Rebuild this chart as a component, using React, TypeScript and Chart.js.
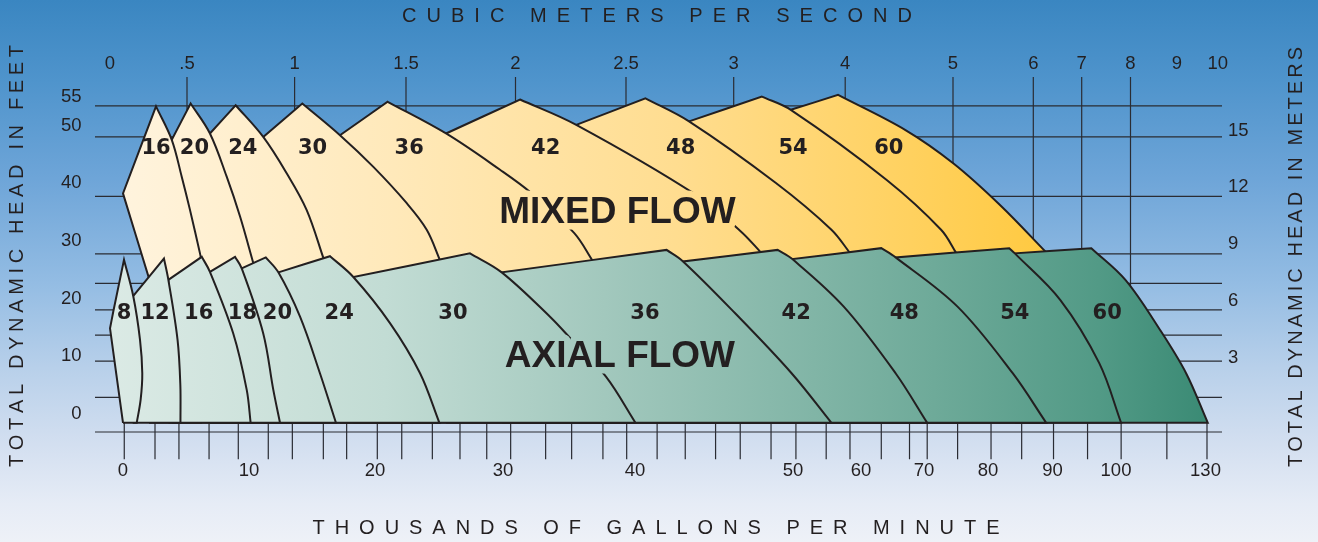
import React, { useEffect, useRef } from 'react';
import { Chart, LinearScale, registerables } from 'chart.js';

type Pt = [number, number];

// ---------- Printed axis scales (the flow axes are non-linear; AXIS_SPAN = axis length units) ----------
const AXIS_SPAN = 1127;

const gpmTicks = [0, 10, 20, 30, 40, 50, 60, 70, 80, 90, 100, 130];
const gpmTickLabels = ['0', '10', '20', '30', '40', '50', '60', '70', '80', '90', '100', '130'];
const gpmTickAt = [28, 154, 280, 408, 540, 698, 766, 829, 893, 957.5, 1021, 1110.5];
const gpmMinorTicks = [
  0.1, 2.54, 4.44, 6.83, 9.15, 11.53, 13.44, 15.9, 17.75, 20.18, 22.09, 24.48, 26.64, 28.73,
  30.58, 33.23, 35.2, 37.57, 39.37, 41.4, 43.18, 45.1, 46.66, 48.61, 50.43, 54.88, 58.38,
  63.22, 67.7, 70.5, 75.25, 80.47, 85.22, 90.16, 95.52, 101.72, 117.05, 130.5,
];

const cmsTicks = [0, 0.5, 1, 1.5, 2, 2.5, 3, 4, 5, 6, 7, 8, 9, 10];
const cmsTickLabels = ['0', '.5', '1', '1.5', '2', '2.5', '3', '4', '5', '6', '7', '8', '9', '10'];
const cmsTickAt = [15, 92, 199.6, 311, 420.5, 531, 638.7, 750.2, 858, 938.3, 986.7, 1035.5, 1081.8, 1122.7];
const cmsGridTicks = [0.5, 1, 1.5, 2, 2.5, 3, 4, 5, 6, 7, 8];

const feetTicks = [0, 10, 20, 30, 40, 50, 55];
const meterTicks = [3, 6, 9, 12, 15];
const headGridFeet = [55, 49.6, 39.3, 29.3, 24.2, 19.6, 15.2, 10.7, 4.4];
const FEET_MIN = -1.6;
const FEET_MAX = 60;
const FT_PER_M = 3.28084;

// ---------- Mixed flow pumps (x: thousands GPM, y: feet) ----------
const mixedSizes = [16, 20, 24, 30, 36, 42, 48, 54, 60];
const mixedPeaks: Pt[] = [
  [2.62, 54.9], [5.37, 55.4], [8.94, 55.1], [14.23, 55.4], [20.99, 55.7],
  [31.29, 56.1], [40.66, 56.3], [48.03, 56.6], [56.63, 56.9],
];
const mixedLeftEdges: Pt[][] = [
  [[2.06, 25.1], [0, 39.8]],
  [[3.87, 49.1]],
  [[6.9, 50.2]],
  [[11.13, 49.6]],
  [[17.22, 49.9]],
  [[25.55, 50.2]],
  [[35.55, 51.7]],
  [[43.42, 52.3]],
  [[49.86, 54.3]],
];
const mixedRightEdges: Pt[][] = [
  [[3.87, 49.1], [4.66, 42.7], [5.32, 36.9], [6.11, 29.4], [6.2, 28.4]],
  [[6.9, 50.2], [8.23, 42.7], [9.29, 35.8], [10.37, 27.5]],
  [[11.13, 49.6], [12.99, 43.3], [14.58, 36.9], [15.95, 28.3]],
  [[17.22, 49.9], [19.87, 44.4], [22.48, 38.1], [24.04, 33.5], [25.1, 28.1]],
  [[25.55, 50.2], [29.77, 43.9], [32.18, 39.8], [35.4, 32.9], [36.82, 28.0]],
  [[35.55, 51.7], [43.89, 39.5], [46.7, 33.2], [48.02, 29.4]],
  [[43.42, 52.3], [48.92, 41.6], [55.65, 33.5], [58.42, 29.4]],
  [[49.86, 54.3], [64.13, 42.1], [72.67, 33.5], [75.1, 29.35]],
  [[67.06, 50.8], [74.61, 45.0], [81.86, 37.8], [89.05, 29.55]],
];
const mixedLabelGpm = [2.62, 5.67, 9.51, 15.04, 22.67, 33.23, 42.89, 50.0, 64.41];
const mixedLabelFt = 47.6;

// ---------- Axial flow pumps ----------
const axialSizes = [8, 12, 16, 18, 20, 24, 30, 36, 42, 48, 54, 60];
const axialPeaks: Pt[] = [
  [0.08, 28.3], [3.25, 28.5], [6.25, 28.8], [8.89, 28.8], [11.33, 28.7], [16.43, 28.9],
  [27.42, 29.4], [42.0, 30.0], [49.03, 30.0], [63.22, 30.3], [83.29, 30.3], [96.11, 30.3],
];
const axialLeftEdges: Pt[][] = [
  [[0, 0], [-1.03, 16.4], [-0.77, 19.3]],
  [[0.77, 21.9]],
  [[3.6, 24.8]],
  [[6.9, 26.2]],
  [[9.42, 26.8]],
  [[12.33, 26.1]],
  [[18.28, 25.3]],
  [[29.9, 26.1]],
  [[43.04, 28.0]],
  [[49.96, 28.4]],
  [[65.49, 28.7]],
  [[84.16, 29.4]],
];
const axialRightEdges: Pt[][] = [
  [[0.82, 21.9], [1.35, 14.4], [1.53, 8.6], [1.4, 4.0], [1.09, 0]],
  [[3.6, 24.8], [4.33, 14.4], [4.55, 6.6], [4.56, 0]],
  [[6.9, 26.2], [8.75, 15.5], [9.82, 5.7], [10.13, 0]],
  [[9.42, 26.8], [11.13, 15.5], [11.93, 5.7], [12.46, 0]],
  [[12.33, 26.1], [14.05, 18.4], [15.63, 8.6], [16.9, 0]],
  [[18.28, 25.3], [21.17, 17.3], [23.52, 8.6], [25.03, 0]],
  [[29.9, 26.1], [33.56, 18.4], [35.17, 14.5], [37.8, 8.0], [40.03, 0]],
  [[43.04, 28.0], [46.34, 19.0], [49.91, 8.6], [55.65, 0]],
  [[49.96, 28.4], [57.43, 20.2], [65.49, 8.6], [70.5, 0]],
  [[65.49, 28.7], [75.2, 20.2], [83.83, 8.6], [89.02, 0]],
  [[84.16, 29.4], [91.24, 21.3], [97.38, 10.3], [101.71, 0]],
  [[103.15, 24.8], [114.78, 16.1], [123.5, 8.6], [130.77, 0]],
];
const axialLabelGpm = [0.08, 2.54, 6.01, 9.48, 12.26, 17.16, 26.09, 40.63, 50.47, 66.87, 84.16, 98.61];
const axialLabelFt = 18.9;

const flowTitles = ['MIXED FLOW', 'AXIAL FLOW'];
const flowTitleGpm = [38.67, 38.86];
const flowTitleFt = [36.35, 11.5];

// ---------- Styles ----------
const INK = '#231f20';
const GRID_COLOR = '#2a2c33';
const TICK_FAMILY = "'Liberation Sans', Arial, Helvetica, sans-serif";
const SIZE_FONT = "bold 21px 'DejaVu Sans', 'Liberation Sans', sans-serif";
const FLOW_FONT = "bold 37px 'Liberation Sans', Arial, sans-serif";
const TITLE_FONT = "20px 'Liberation Sans', Arial, sans-serif";
const BG =
  'linear-gradient(180deg, #3a86c1 0%, #4f94cc 15%, #6ea5d8 33%, #93bce3 52%, #b8d0ea 68%, #d3dff0 82%, #e6ecf6 93%, #eef1f7 100%)';
const mixedStops: [number, string][] = [
  [0, '#fff4df'], [0.3, '#ffe9ba'], [0.6, '#ffdd90'], [0.85, '#ffd15f'], [1, '#ffc93f'],
];
const axialStops: [number, string][] = [
  [0, '#dbeae5'], [0.25, '#c2dcd4'], [0.45, '#a2c8bd'], [0.6, '#88b9ab'],
  [0.75, '#6eaa99'], [0.9, '#529a86'], [1, '#3a8a74'],
];

// ---------- Non-linear (piecewise) scale ----------
const CALIBRATION: Record<string, { values: number[]; at: number[] }> = {
  x: { values: gpmTicks, at: gpmTickAt },
  x2: { values: cmsTicks, at: cmsTickAt },
};

function interp(v: number, xs: number[], ys: number[]): number {
  const n = xs.length;
  let i = 0;
  if (v >= xs[n - 1]) i = n - 2;
  else if (v > xs[0]) {
    while (i < n - 2 && v > xs[i + 1]) i++;
  }
  const t = (v - xs[i]) / (xs[i + 1] - xs[i]);
  return ys[i] + t * (ys[i + 1] - ys[i]);
}

class PiecewiseScale extends LinearScale {
  static id = 'piecewise';
  static defaults = {};
  getPixelForValue(value: any) {
    const cal = CALIBRATION[(this as any).id];
    if (value === null || value === undefined || !cal) return super.getPixelForValue(value);
    return this.getPixelForDecimal(interp(value, cal.values, cal.at) / AXIS_SPAN);
  }
  getValueForPixel(pixel: number) {
    const cal = CALIBRATION[(this as any).id];
    if (!cal) return super.getValueForPixel(pixel);
    return interp(this.getDecimalForPixel(pixel) * AXIS_SPAN, cal.at, cal.values);
  }
}

Chart.register(...registerables, PiecewiseScale as any);

// polygon: straight left edge + peak (sharp corners, doubled), smooth right curve, closed on 0 ft
function shapePolygon(left: Pt[], peak: Pt, right: Pt[]) {
  const pts: { x: number; y: number }[] = [];
  const corner = (p: Pt) => { pts.push({ x: p[0], y: p[1] }, { x: p[0], y: p[1] }); };
  const smooth = (p: Pt) => { pts.push({ x: p[0], y: p[1] }); };
  const first = left[0];
  const last = right[right.length - 1];
  const start: Pt = [first[0], 0];
  if (first[1] !== 0) corner(start);
  left.forEach(corner);
  corner(peak);
  right.slice(0, -1).forEach(smooth);
  corner(last);
  if (last[1] !== 0) corner([last[0], 0]);
  corner(start);
  return pts;
}

function flowGradient(chart: any, stops: [number, string][], fromGpm: number, toGpm: number) {
  const x = chart && chart.scales && chart.scales.x;
  if (!x || !chart.chartArea) return stops[0][1];
  const g = chart.ctx.createLinearGradient(x.getPixelForValue(fromGpm), 0, x.getPixelForValue(toGpm), 0);
  stops.forEach(([o, c]) => g.addColorStop(o, c));
  return g;
}
const mixedFill = (chart: any) => flowGradient(chart, mixedStops, -1, 90);
const axialFill = (chart: any) => flowGradient(chart, axialStops, -1, 131);

function spacedText(ctx: CanvasRenderingContext2D, text: string, cx: number, cy: number, span: number, angle: number) {
  ctx.save();
  ctx.translate(cx, cy);
  ctx.rotate(angle);
  ctx.textAlign = 'left';
  ctx.textBaseline = 'middle';
  const chars = Array.from(text);
  const widths = chars.map((ch) => ctx.measureText(ch).width);
  const natural = widths.reduce((s, w) => s + w, 0);
  const gap = (span - natural) / (chars.length - 1);
  let x = -span / 2;
  chars.forEach((ch, i) => {
    ctx.fillText(ch, x, 0);
    x += widths[i] + gap;
  });
  ctx.restore();
}

const gridPlugin = {
  id: 'pumpGrid',
  beforeDatasetsDraw(chart: any) {
    const { ctx, chartArea: a, scales } = chart;
    const { x, x2, y } = scales;
    const base = y.getPixelForValue(0);
    ctx.save();
    ctx.strokeStyle = GRID_COLOR;
    ctx.lineWidth = 1.2;
    ctx.beginPath();
    headGridFeet.forEach((v) => {
      const py = y.getPixelForValue(v);
      ctx.moveTo(a.left, py);
      ctx.lineTo(a.right, py);
    });
    ctx.moveTo(a.left, a.bottom);
    ctx.lineTo(a.right, a.bottom);
    cmsGridTicks.forEach((v) => {
      const px = x2.getPixelForValue(v);
      ctx.moveTo(px, a.top);
      ctx.lineTo(px, base);
    });
    gpmMinorTicks.forEach((v) => {
      const px = x.getPixelForValue(v);
      ctx.moveTo(px, base);
      ctx.lineTo(px, base + 36.5);
    });
    ctx.stroke();
    ctx.restore();
  },
};

const labelPlugin = {
  id: 'pumpLabels',
  afterDatasetsDraw(chart: any) {
    const { ctx, scales } = chart;
    const { x, y } = scales;
    ctx.save();
    ctx.fillStyle = INK;
    ctx.textAlign = 'center';
    ctx.textBaseline = 'middle';
    ctx.font = SIZE_FONT;
    mixedSizes.forEach((s, i) => {
      ctx.fillText(String(s), x.getPixelForValue(mixedLabelGpm[i]), y.getPixelForValue(mixedLabelFt));
    });
    axialSizes.forEach((s, i) => {
      ctx.fillText(String(s), x.getPixelForValue(axialLabelGpm[i]), y.getPixelForValue(axialLabelFt));
    });
    ctx.font = FLOW_FONT;
    ctx.lineJoin = 'round';
    ctx.lineWidth = 13;
    flowTitles.forEach((t, i) => {
      const px = x.getPixelForValue(flowTitleGpm[i]);
      const py = y.getPixelForValue(flowTitleFt[i]);
      ctx.strokeStyle = i === 0 ? mixedFill(chart) : axialFill(chart);
      ctx.strokeText(t, px, py);
      ctx.fillText(t, px, py);
    });
    ctx.restore();
  },
};

const titlePlugin = {
  id: 'pumpTitles',
  afterDraw(chart: any) {
    const ctx = chart.ctx as CanvasRenderingContext2D;
    ctx.save();
    ctx.fillStyle = INK;
    ctx.font = TITLE_FONT;
    spacedText(ctx, 'CUBIC METERS PER SECOND', 657, 16.5, 510, 0);
    spacedText(ctx, 'THOUSANDS OF GALLONS PER MINUTE', 656, 528, 687, 0);
    spacedText(ctx, 'TOTAL DYNAMIC HEAD IN FEET', 17.5, 256, 422, -Math.PI / 2);
    spacedText(ctx, 'TOTAL DYNAMIC HEAD IN METERS', 1296, 257, 420, -Math.PI / 2);
    ctx.restore();
  },
};

export default function App() {
  const ref = useRef<HTMLCanvasElement>(null);

  useEffect(() => {
    const canvas = ref.current;
    if (!canvas) return;

    const lineBase = {
      type: 'line',
      xAxisID: 'x',
      yAxisID: 'y',
      fill: 'shape',
      borderColor: INK,
      borderWidth: 2,
      borderJoinStyle: 'miter',
      tension: 0.35,
      pointRadius: 0,
      clip: false,
    };

    const axialSets = axialSizes.map((s, i) => ({
      ...lineBase,
      label: `Axial flow ${s}"`,
      data: shapePolygon(axialLeftEdges[i], axialPeaks[i], axialRightEdges[i]),
      backgroundColor: (c: any) => axialFill(c.chart),
    }));
    const mixedSets = mixedSizes.map((s, i) => ({
      ...lineBase,
      label: `Mixed flow ${s}"`,
      data: shapePolygon(mixedLeftEdges[i], mixedPeaks[i], mixedRightEdges[i]),
      backgroundColor: (c: any) => mixedFill(c.chart),
    }));

    const tickFont = { family: TICK_FAMILY, size: 18.5 };
    const noGrid = { display: false, drawTicks: false };

    const chart = new Chart(canvas, {
      type: 'line',
      data: { datasets: [...axialSets, ...mixedSets] as any },
      options: {
        animation: false,
        responsive: false,
        events: [],
        layout: { padding: 0, autoPadding: false },
        plugins: { legend: { display: false }, tooltip: { enabled: false }, title: { display: false } },
        scales: {
          x: {
            type: 'piecewise' as any,
            position: 'bottom',
            min: -2.2,
            max: 136,
            grid: noGrid,
            border: { display: false },
            afterBuildTicks: (s: any) => { s.ticks = gpmTicks.map((v) => ({ value: v })); },
            afterFit: (s: any) => { s.height = 110; s.paddingLeft = 0; s.paddingRight = 0; },
            ticks: {
              autoSkip: false, maxRotation: 0, minRotation: 0, padding: 28,
              font: tickFont, color: INK,
              callback: (_v: any, i: number) => gpmTickLabels[i],
            },
          },
          x2: {
            type: 'piecewise' as any,
            axis: 'x',
            position: 'top',
            min: -0.2,
            max: 10.2,
            grid: noGrid,
            border: { display: false },
            afterBuildTicks: (s: any) => { s.ticks = cmsTicks.map((v) => ({ value: v })); },
            afterFit: (s: any) => { s.height = 77; s.paddingLeft = 0; s.paddingRight = 0; },
            ticks: {
              autoSkip: false, maxRotation: 0, minRotation: 0, padding: 2,
              font: tickFont, color: INK,
              callback: (_v: any, i: number) => cmsTickLabels[i],
            },
          },
          y: {
            type: 'linear',
            position: 'left',
            min: FEET_MIN,
            max: FEET_MAX,
            bounds: 'data',
            grid: noGrid,
            border: { display: false },
            afterBuildTicks: (s: any) => { s.ticks = feetTicks.map((v) => ({ value: v })); },
            afterFit: (s: any) => { s.width = 95; s.paddingTop = 0; s.paddingBottom = 0; },
            ticks: {
              autoSkip: false, padding: 13.5, labelOffset: -9,
              font: tickFont, color: INK,
              callback: (v: any) => String(v),
            },
          },
          y2: {
            type: 'linear',
            position: 'right',
            min: FEET_MIN / FT_PER_M,
            max: FEET_MAX / FT_PER_M,
            bounds: 'data',
            grid: noGrid,
            border: { display: false },
            afterBuildTicks: (s: any) => { s.ticks = meterTicks.map((v) => ({ value: v })); },
            afterFit: (s: any) => { s.width = 96; s.paddingTop = 0; s.paddingBottom = 0; },
            ticks: {
              autoSkip: false, padding: 6, labelOffset: -8.5,
              font: tickFont, color: INK,
              callback: (v: any) => String(v),
            },
          },
        },
      } as any,
      plugins: [gridPlugin, labelPlugin, titlePlugin] as any,
    });

    return () => chart.destroy();
  }, []);

  return (
    <div style={{ position: 'fixed', left: 0, top: 0, width: 1318, height: 542, background: BG, overflow: 'hidden' }}>
      <canvas ref={ref} width={1318} height={542} style={{ display: 'block', width: 1318, height: 542 }} />
    </div>
  );
}
